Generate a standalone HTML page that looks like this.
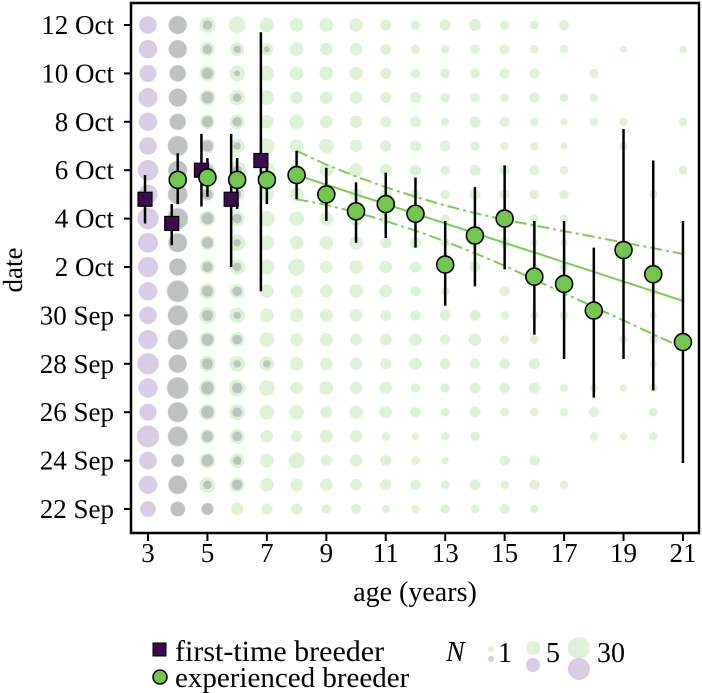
<!DOCTYPE html>
<html><head><meta charset="utf-8"><style>
html,body{margin:0;padding:0;background:#fff;}
svg{display:block;font-family:"Liberation Serif",serif;}
</style></head><body>
<svg id="chart" width="702" height="693" viewBox="0 0 702 693" xmlns="http://www.w3.org/2000/svg">
<g id="bg"></g>
<g id="fit"></g>
<g id="marks"></g>
<rect x="131" y="3" width="568" height="530" fill="none" stroke="#000" stroke-width="2.5"/>
<g id="axes"></g>
<text transform="translate(22,270) rotate(-90)" text-anchor="middle" font-size="27">date</text>
<text x="415" y="601" text-anchor="middle" font-size="28">age (years)</text>
<g>
<rect x="153" y="643" width="13" height="13" fill="#3c0b4b" stroke="#000" stroke-width="1"/>
<text x="175" y="661" font-size="30">first-time breeder</text>
<circle cx="160" cy="677" r="7" fill="#72c64d" stroke="#000" stroke-width="1.5"/>
<text x="175" y="687" font-size="29">experienced breeder</text>
<text x="446" y="661" font-size="28" font-style="italic">N</text>
<circle cx="491" cy="649" r="3" fill="#dff2d8"/>
<circle cx="491" cy="659" r="3" fill="#d8cde3"/>
<text x="498" y="662" font-size="28">1</text>
<circle cx="533" cy="648" r="7" fill="#dff2d8"/>
<circle cx="533" cy="665" r="7" fill="#d8cde3"/>
<text x="546" y="662" font-size="28">5</text>
<circle cx="579" cy="648" r="11" fill="#dff2d8"/>
<circle cx="579" cy="669" r="11" fill="#d8cde3"/>
<text x="597" y="662" font-size="28">30</text>
</g>
</svg>
<script>
// dates as days after 22 Sep
const yTickDays = [0,2,4,6,8,10,12,14,16,18,20];
const yTickLabels = ["22 Sep","24 Sep","26 Sep","28 Sep","30 Sep","2 Oct","4 Oct","6 Oct","8 Oct","10 Oct","12 Oct"];
const xTicks = [3,5,7,9,11,13,15,17,19,21];
// first-time breeder means
const ftAges = [3,4,5,6,7];
const ftMean = [12.8,11.8,14.0,12.8,14.4];
const ftLo = [11.8,10.9,12.5,10.0,9.0];
const ftHi = [13.8,12.6,15.5,15.5,19.7];
// experienced breeder means
const exAges = [4,5,6,7,8,9,10,11,12,13,14,15,16,17,18,19,20,21];
const exMean = [13.6,13.7,13.6,13.6,13.8,13.0,12.3,12.6,12.2,10.1,11.3,12.0,9.6,9.3,8.2,10.7,9.7,6.9];
const exLo = [12.6,12.9,12.4,12.6,12.8,11.9,11.0,11.2,10.8,8.4,9.2,9.9,7.2,6.2,4.6,6.2,4.9,1.9];
const exHi = [14.7,14.5,14.5,14.3,14.8,14.1,13.5,13.9,13.7,11.9,13.3,14.2,11.9,11.9,10.8,15.7,14.4,11.9];
// regression fit
const fitAges = [8,9,10,11,12,13,14,15,16,17,18,19,20,21];
const fitMid = [13.8,13.4,13.0,12.6,12.2,11.8,11.4,11.0,10.6,10.2,9.8,9.4,9.0,8.6];
const fitHalf = [1.0,0.83,0.74,0.70,0.70,0.74,0.83,0.95,1.12,1.28,1.45,1.61,1.78,1.94];
// background counts, rows bottom (22 Sep) to top (12 Oct)
const bgFirst = {
 3:[14,20,18,30,17,22,28,22,18,20,25,24,28,22,26,18,20,22,17,20,18],
 4:[12,22,8,25,25,30,20,25,25,30,18,22,28,24,22,25,16,20,16,20,20],
 5:[8,3,7,6,8,8,6,7,6,6,5,6,7,5,7,6,6,7,6,4,4],
 6:[0,5,3,4,4,5,2,4,2,4,3,2,4,3,4,2,4,3,1,2,0],
 7:[0,0,0,0,0,0,2,0,0,0,0,0,0,0,0,0,0,0,0,1,0]
};
const bgExp = {
 4:[12,18,10,20,22,25,18,22,22,25,16,20,22,20,20,22,14,18,14,18,18],
 5:[6,14,14,12,16,16,14,14,16,14,12,12,14,10,14,12,12,14,14,12,14],
 6:[8,12,12,12,14,16,14,12,14,12,14,16,12,12,18,12,12,14,14,10,16],
 7:[6,10,10,8,12,14,12,12,10,10,12,12,14,12,14,14,10,12,12,8,12],
 8:[6,8,14,6,12,8,10,8,10,8,16,10,12,10,10,10,12,8,10,10,10],
 9:[4,8,6,9,7,10,8,9,9,8,8,10,10,10,10,12,8,8,10,8,10],
 10:[5,7,8,8,10,8,8,7,9,10,10,10,12,8,10,8,8,8,10,8,10],
 11:[3,6,6,3,8,8,6,7,6,8,8,6,6,6,8,6,6,6,6,6,6],
 12:[3,5,3,2,5,4,8,8,5,5,6,6,6,4,6,6,6,6,4,4,4],
 13:[4,3,2,3,3,4,6,5,6,3,4,4,3,4,4,6,3,4,4,3,6],
 14:[3,6,0,4,6,6,5,8,6,0,6,5,0,6,6,4,6,4,4,4,7],
 15:[5,3,5,0,3,5,5,3,3,5,0,5,4,5,5,3,5,3,5,5,4],
 16:[3,5,5,0,3,6,6,3,3,0,3,2,3,4,5,3,3,5,5,3,3],
 17:[0,3,0,0,3,3,0,0,3,0,3,2,3,4,3,2,2,3,0,3,5],
 18:[0,0,0,3,5,3,0,0,0,0,0,0,0,0,0,0,3,3,4,0,0],
 19:[0,0,0,2,0,2,0,3,0,0,0,0,0,0,0,3,3,0,0,2,0],
 20:[0,0,0,3,3,3,2,3,2,3,3,0,0,3,0,0,0,0,0,0,0],
 21:[0,0,0,0,0,0,0,0,0,0,0,0,0,0,3,0,3,0,0,2,0]
};
const NS="http://www.w3.org/2000/svg";
const xs = a => 148 + (a-3)*29.72;
const ys = d => 509 - d*24.2;
const rs = n => 1.2 + 1.79*Math.sqrt(n);
function mk(tag, attrs, parent){const e=document.createElementNS(NS,tag);for(const k in attrs)e.setAttribute(k,attrs[k]);parent.appendChild(e);return e;}
const bg=document.getElementById('bg'), fit=document.getElementById('fit'), marks=document.getElementById('marks'), axes=document.getElementById('axes');
for(const a in bgExp){bgExp[a].forEach((n,i)=>{if(!n)return;
 const c=mk('circle',{cx:xs(+a),cy:ys(i),r:rs(n),fill:'#dff2d8'},bg);
 
 });}
for(const a in bgFirst){bgFirst[a].forEach((n,i)=>{if(!n)return;
 const c=mk('circle',{cx:xs(+a),cy:ys(i),r:rs(n),fill:'#d8cde3',style:'mix-blend-mode:multiply'},bg);
 
 });}
const pts = f => fitAges.map((a,i)=>xs(a)+','+ys(f(i))).join(' ');
let l=mk('polyline',{points:pts(i=>fitMid[i]),fill:'none',stroke:'#7acc55','stroke-width':2},fit);


l=mk('polyline',{points:pts(i=>fitMid[i]+fitHalf[i]),fill:'none',stroke:'#7acc55','stroke-width':2,'stroke-dasharray':'12,4,3,4'},fit);


l=mk('polyline',{points:pts(i=>fitMid[i]-fitHalf[i]),fill:'none',stroke:'#7acc55','stroke-width':2,'stroke-dasharray':'12,4,3,4'},fit);


exAges.forEach((a,i)=>{const x=xs(a);
 const e=mk('line',{x1:x,x2:x,y1:ys(exLo[i]),y2:ys(exHi[i]),stroke:'#000','stroke-width':2.5},marks);
 
 });
ftAges.forEach((a,i)=>{const x=xs(a)-(a===3?3:6);
 const e=mk('line',{x1:x,x2:x,y1:ys(ftLo[i]),y2:ys(ftHi[i]),stroke:'#000','stroke-width':2.5},marks);
 
 });
ftAges.forEach((a,i)=>{const x=xs(a)-(a===3?3:6);
 const s=mk('rect',{x:x-7,y:ys(ftMean[i])-7,width:14,height:14,fill:'#3c0b4b',stroke:'#000','stroke-width':1.2},marks);
 
 });
exAges.forEach((a,i)=>{
 const c=mk('circle',{cx:xs(a),cy:ys(exMean[i]),r:8.5,fill:'#72c64d',stroke:'#000','stroke-width':1.6},marks);
 
 });
yTickDays.forEach((d,i)=>{
 const t=mk('line',{x1:124,x2:131,y1:ys(d),y2:ys(d),stroke:'#000','stroke-width':2},axes);
 
 
 const tx=mk('text',{x:114,y:ys(d)+9,'text-anchor':'end','font-size':27},axes);
 tx.textContent=yTickLabels[i];
 
 });
xTicks.forEach(a=>{
 const t=mk('line',{x1:xs(a),x2:xs(a),y1:533,y2:541,stroke:'#000','stroke-width':2},axes);
 
 
 const tx=mk('text',{x:xs(a),y:562,'text-anchor':'middle','font-size':27},axes);
 tx.textContent=a;
 
 });
</script>
</body></html>
